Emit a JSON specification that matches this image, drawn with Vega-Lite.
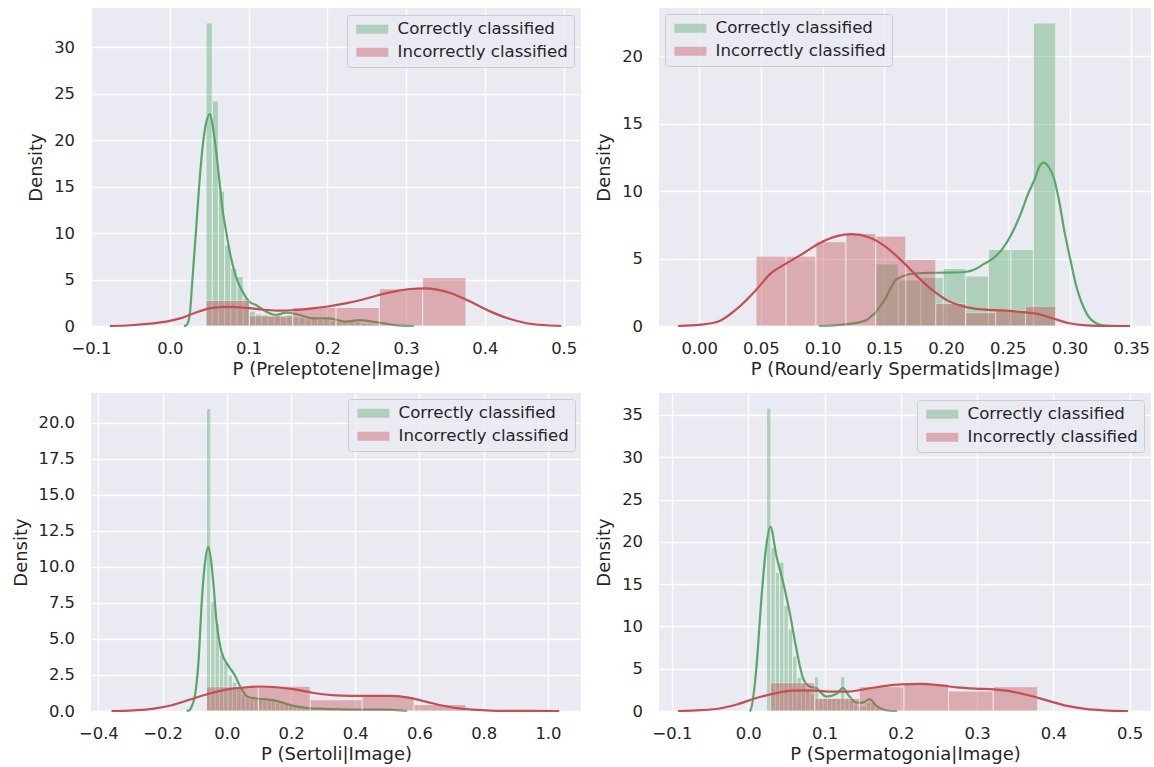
{
"$schema": "https://vega.github.io/schema/vega-lite/v6.json",
"background": "#FFFFFF",
"padding": {"left": 12, "top": 8, "right": 0, "bottom": 0},
"columns": 2,
"spacing": {"row": 14, "column": 14},
"resolve": {"scale": {"color": "independent"}, "legend": {"color": "independent"}},
"config": {
  "font": "DejaVu Sans",
  "view": {"fill": "#EAEAF2", "stroke": null},
  "axis": {"domain": false, "ticks": false, "grid": true, "tickCount": 20, "gridColor": "#FFFFFF", "gridWidth": 1.4, "labelFont": "DejaVu Sans", "labelFontSize": 16.4, "labelColor": "#262626", "labelOverlap": false, "titleFont": "DejaVu Sans", "titleFontSize": 18, "titleFontWeight": "normal", "titleColor": "#262626"},
  "axisX": {"labelPadding": 14, "titlePadding": 4, "labelFlush": false},
  "axisY": {"labelPadding": 16.5, "titlePadding": 8},
  "legend": {"padding": 6, "cornerRadius": 3, "fillColor": "rgba(234,234,242,0.8)", "strokeColor": "#CCCCCC", "strokeWidth": 1, "symbolType": "M-3.2,-0.9H3.2V0.9H-3.2Z", "symbolSize": 100, "symbolOffset": 11, "symbolStrokeWidth": 0, "symbolOpacity": 0.4, "labelOffset": 17, "labelFont": "DejaVu Sans", "labelFontSize": 16.6, "labelColor": "#262626", "labelLimit": 400, "rowPadding": 6}
},
"datasets": {
  "pre_ch": [{"x0":0.046,"x1":0.0539,"d":32.6},{"x0":0.0539,"x1":0.0617,"d":24.2},{"x0":0.0617,"x1":0.0696,"d":14.5},{"x0":0.0696,"x1":0.0774,"d":8.7},{"x0":0.0774,"x1":0.0853,"d":6.2},{"x0":0.0853,"x1":0.0932,"d":5.3},{"x0":0.0932,"x1":0.101,"d":3.0},{"x0":0.101,"x1":0.1089,"d":1.6},{"x0":0.1089,"x1":0.1167,"d":1.3},{"x0":0.1167,"x1":0.1246,"d":1.2},{"x0":0.1246,"x1":0.1325,"d":1.0},{"x0":0.1325,"x1":0.1403,"d":1.1},{"x0":0.1403,"x1":0.1482,"d":1.0},{"x0":0.1482,"x1":0.156,"d":1.2},{"x0":0.156,"x1":0.1639,"d":1.0},{"x0":0.1639,"x1":0.1718,"d":0.9},{"x0":0.1718,"x1":0.1796,"d":0.8},{"x0":0.1796,"x1":0.1875,"d":0.9},{"x0":0.1875,"x1":0.1953,"d":0.7},{"x0":0.1953,"x1":0.2032,"d":0.8},{"x0":0.2032,"x1":0.2111,"d":0.6},{"x0":0.2111,"x1":0.2189,"d":0.5},{"x0":0.2189,"x1":0.2268,"d":0.6},{"x0":0.2268,"x1":0.2346,"d":0.5},{"x0":0.2346,"x1":0.2425,"d":0.5},{"x0":0.2425,"x1":0.2504,"d":0.3},{"x0":0.2504,"x1":0.2582,"d":0.3},{"x0":0.2582,"x1":0.2661,"d":0.2},{"x0":0.2661,"x1":0.2739,"d":0.1},{"x0":0.2739,"x1":0.2818,"d":0.1}],
  "pre_ih": [{"x0":0.046,"x1":0.101,"d":2.75},{"x0":0.101,"x1":0.156,"d":1.1},{"x0":0.156,"x1":0.211,"d":2.0},{"x0":0.211,"x1":0.266,"d":2.0},{"x0":0.266,"x1":0.321,"d":4.0},{"x0":0.321,"x1":0.376,"d":5.2}],
  "pre_ck": [{"x":0.018,"d":0},{"x":0.0207,"d":0.05},{"x":0.025,"d":1.0},{"x":0.029,"d":5.3},{"x":0.0335,"d":10.5},{"x":0.0376,"d":15.4},{"x":0.042,"d":19.5},{"x":0.046,"d":21.8},{"x":0.0511,"d":22.8},{"x":0.0545,"d":21.5},{"x":0.0587,"d":18.9},{"x":0.063,"d":15.6},{"x":0.067,"d":12.5},{"x":0.0715,"d":10.2},{"x":0.0756,"d":8.2},{"x":0.084,"d":5.3},{"x":0.0924,"d":3.7},{"x":0.1009,"d":2.6},{"x":0.1094,"d":2.26},{"x":0.122,"d":1.55},{"x":0.1347,"d":1.18},{"x":0.1474,"d":1.43},{"x":0.16,"d":1.29},{"x":0.17,"d":1.05},{"x":0.181,"d":0.82},{"x":0.202,"d":0.82},{"x":0.223,"d":0.47},{"x":0.24,"d":0.64},{"x":0.257,"d":0.47},{"x":0.272,"d":0.28},{"x":0.286,"d":0.1},{"x":0.3,"d":0.02},{"x":0.31,"d":0}],
  "pre_ik": [{"x":-0.076,"d":0},{"x":-0.05,"d":0.08},{"x":-0.025,"d":0.25},{"x":0,"d":0.55},{"x":0.013,"d":0.82},{"x":0.03,"d":1.35},{"x":0.0545,"d":1.95},{"x":0.075,"d":2.05},{"x":0.097,"d":1.95},{"x":0.12,"d":1.75},{"x":0.139,"d":1.65},{"x":0.16,"d":1.72},{"x":0.181,"d":1.9},{"x":0.2,"d":2.1},{"x":0.223,"d":2.44},{"x":0.245,"d":2.85},{"x":0.2655,"d":3.33},{"x":0.286,"d":3.72},{"x":0.305,"d":3.98},{"x":0.324,"d":4.05},{"x":0.339,"d":3.92},{"x":0.358,"d":3.5},{"x":0.382,"d":2.6},{"x":0.406,"d":1.6},{"x":0.43,"d":0.8},{"x":0.453,"d":0.3},{"x":0.478,"d":0.08},{"x":0.497,"d":0}],
  "round_ch": [{"x0":0.1431,"x1":0.1613,"d":4.6},{"x0":0.1613,"x1":0.1796,"d":3.4},{"x0":0.1796,"x1":0.1978,"d":3.6},{"x0":0.1978,"x1":0.216,"d":4.26},{"x0":0.216,"x1":0.2343,"d":3.7},{"x0":0.2343,"x1":0.2525,"d":5.67},{"x0":0.2525,"x1":0.2707,"d":5.67},{"x0":0.2707,"x1":0.2888,"d":22.45}],
  "round_ih": [{"x0":0.0461,"x1":0.0704,"d":5.17},{"x0":0.0704,"x1":0.0946,"d":5.17},{"x0":0.0946,"x1":0.1189,"d":6.24},{"x0":0.1189,"x1":0.1431,"d":6.86},{"x0":0.1431,"x1":0.1674,"d":6.66},{"x0":0.1674,"x1":0.1917,"d":4.93},{"x0":0.1917,"x1":0.2159,"d":1.66},{"x0":0.2159,"x1":0.2402,"d":0.99},{"x0":0.2402,"x1":0.2644,"d":1.16},{"x0":0.2644,"x1":0.2888,"d":1.46}],
  "round_ck": [{"x":0.097,"d":0},{"x":0.115,"d":0.08},{"x":0.125,"d":0.2},{"x":0.1354,"d":0.42},{"x":0.139,"d":0.7},{"x":0.143,"d":1.0},{"x":0.146,"d":1.4},{"x":0.15,"d":1.9},{"x":0.1545,"d":2.7},{"x":0.1592,"d":3.4},{"x":0.1655,"d":3.7},{"x":0.1711,"d":3.85},{"x":0.185,"d":3.94},{"x":0.2,"d":3.95},{"x":0.215,"d":4.0},{"x":0.2235,"d":4.2},{"x":0.2307,"d":4.6},{"x":0.238,"d":5.0},{"x":0.2455,"d":5.7},{"x":0.253,"d":6.8},{"x":0.2604,"d":8.3},{"x":0.2665,"d":9.8},{"x":0.2723,"d":11.0},{"x":0.2755,"d":11.8},{"x":0.2789,"d":12.1},{"x":0.283,"d":11.8},{"x":0.2872,"d":11.0},{"x":0.2915,"d":9.3},{"x":0.2961,"d":6.9},{"x":0.3005,"d":5.0},{"x":0.3051,"d":3.1},{"x":0.3095,"d":1.8},{"x":0.314,"d":0.9},{"x":0.3229,"d":0.15},{"x":0.33,"d":0.02},{"x":0.345,"d":0}],
  "round_ik": [{"x":-0.017,"d":0},{"x":0.0015,"d":0.1},{"x":0.016,"d":0.35},{"x":0.031,"d":1.3},{"x":0.046,"d":2.65},{"x":0.058,"d":3.9},{"x":0.07,"d":4.6},{"x":0.082,"d":5.25},{"x":0.0967,"d":6.1},{"x":0.1116,"d":6.66},{"x":0.1235,"d":6.8},{"x":0.138,"d":6.56},{"x":0.153,"d":5.74},{"x":0.165,"d":4.75},{"x":0.177,"d":3.64},{"x":0.189,"d":2.65},{"x":0.201,"d":1.9},{"x":0.216,"d":1.41},{"x":0.2307,"d":1.21},{"x":0.2455,"d":1.16},{"x":0.2604,"d":1.04},{"x":0.2753,"d":0.87},{"x":0.2872,"d":0.54},{"x":0.299,"d":0.22},{"x":0.314,"d":0.05},{"x":0.33,"d":0.01},{"x":0.349,"d":0}],
  "sert_ch": [{"x0":-0.0635,"x1":-0.05,"d":21.0},{"x0":-0.05,"x1":-0.0366,"d":7.6},{"x0":-0.0366,"x1":-0.0231,"d":6.1},{"x0":-0.0231,"x1":-0.0096,"d":3.9},{"x0":-0.0096,"x1":0.0039,"d":3.4},{"x0":0.0039,"x1":0.0173,"d":2.5},{"x0":0.0173,"x1":0.0308,"d":2.0},{"x0":0.0308,"x1":0.0443,"d":1.7},{"x0":0.0443,"x1":0.0577,"d":1.15},{"x0":0.0577,"x1":0.0712,"d":0.9},{"x0":0.0712,"x1":0.0847,"d":0.85},{"x0":0.0847,"x1":0.0981,"d":0.8},{"x0":0.0981,"x1":0.1116,"d":0.8},{"x0":0.1116,"x1":0.1251,"d":0.75},{"x0":0.1251,"x1":0.1386,"d":0.75},{"x0":0.1386,"x1":0.152,"d":0.7},{"x0":0.152,"x1":0.1655,"d":0.6},{"x0":0.1655,"x1":0.179,"d":0.5},{"x0":0.179,"x1":0.1924,"d":0.45},{"x0":0.1924,"x1":0.2059,"d":0.4},{"x0":0.2059,"x1":0.2194,"d":0.35},{"x0":0.2194,"x1":0.2328,"d":0.3},{"x0":0.2328,"x1":0.2463,"d":0.3},{"x0":0.2463,"x1":0.2598,"d":0.25},{"x0":0.2598,"x1":0.2733,"d":0.25},{"x0":0.2733,"x1":0.2867,"d":0.2},{"x0":0.2867,"x1":0.3002,"d":0.2},{"x0":0.3002,"x1":0.3137,"d":0.15},{"x0":0.3137,"x1":0.3271,"d":0.15},{"x0":0.3271,"x1":0.3406,"d":0.15},{"x0":0.3406,"x1":0.3541,"d":0.1},{"x0":0.3541,"x1":0.3675,"d":0.1},{"x0":0.3675,"x1":0.381,"d":0.1},{"x0":0.381,"x1":0.3945,"d":0.1},{"x0":0.3945,"x1":0.4079,"d":0.1},{"x0":0.4079,"x1":0.4214,"d":0.1},{"x0":0.4214,"x1":0.4349,"d":0.1},{"x0":0.4349,"x1":0.4484,"d":0.1},{"x0":0.4484,"x1":0.4618,"d":0.1},{"x0":0.4618,"x1":0.4753,"d":0.1},{"x0":0.4753,"x1":0.4888,"d":0.1},{"x0":0.4888,"x1":0.5022,"d":0.05},{"x0":0.5022,"x1":0.5157,"d":0.05},{"x0":0.5157,"x1":0.5292,"d":0.05}],
  "sert_ih": [{"x0":-0.0635,"x1":0.0981,"d":1.68},{"x0":0.0981,"x1":0.2597,"d":1.72},{"x0":0.2597,"x1":0.4213,"d":0.78},{"x0":0.4213,"x1":0.5829,"d":1.0},{"x0":0.5829,"x1":0.7445,"d":0.45}],
  "sert_ck": [{"x":-0.125,"d":0},{"x":-0.117,"d":0.05},{"x":-0.108,"d":0.4},{"x":-0.099,"d":1.1},{"x":-0.088,"d":3.5},{"x":-0.078,"d":7.6},{"x":-0.068,"d":10.3},{"x":-0.0575,"d":11.4},{"x":-0.05,"d":10.6},{"x":-0.042,"d":8.9},{"x":-0.032,"d":6.2},{"x":-0.0164,"d":4.1},{"x":0.004,"d":3.17},{"x":0.025,"d":2.48},{"x":0.045,"d":1.55},{"x":0.066,"d":0.97},{"x":0.097,"d":0.85},{"x":0.148,"d":0.74},{"x":0.2,"d":0.4},{"x":0.252,"d":0.21},{"x":0.305,"d":0.15},{"x":0.352,"d":0.12},{"x":0.41,"d":0.1},{"x":0.468,"d":0.1},{"x":0.515,"d":0.08},{"x":0.538,"d":0.04},{"x":0.561,"d":0}],
  "sert_ik": [{"x":-0.359,"d":0},{"x":-0.289,"d":0.05},{"x":-0.231,"d":0.15},{"x":-0.172,"d":0.4},{"x":-0.114,"d":0.8},{"x":-0.056,"d":1.2},{"x":0.002,"d":1.5},{"x":0.061,"d":1.65},{"x":0.107,"d":1.7},{"x":0.154,"d":1.65},{"x":0.212,"d":1.5},{"x":0.27,"d":1.25},{"x":0.328,"d":1.1},{"x":0.387,"d":1.05},{"x":0.445,"d":1.05},{"x":0.503,"d":1.05},{"x":0.561,"d":0.95},{"x":0.62,"d":0.65},{"x":0.678,"d":0.35},{"x":0.736,"d":0.15},{"x":0.806,"d":0.05},{"x":0.876,"d":0.01},{"x":1.035,"d":0}],
  "spg_ch": [{"x0":0.024,"x1":0.0297,"d":35.8},{"x0":0.0297,"x1":0.0354,"d":19.3},{"x0":0.0354,"x1":0.0411,"d":16.4},{"x0":0.0411,"x1":0.0468,"d":17.6},{"x0":0.0468,"x1":0.0525,"d":12.5},{"x0":0.0525,"x1":0.0582,"d":9.7},{"x0":0.0582,"x1":0.0639,"d":6.5},{"x0":0.0639,"x1":0.0696,"d":4.0},{"x0":0.0696,"x1":0.0753,"d":3.3},{"x0":0.0753,"x1":0.081,"d":2.6},{"x0":0.081,"x1":0.0867,"d":2.0},{"x0":0.0867,"x1":0.0924,"d":4.05},{"x0":0.0924,"x1":0.0981,"d":1.5},{"x0":0.0981,"x1":0.1038,"d":1.5},{"x0":0.1038,"x1":0.1095,"d":1.5},{"x0":0.1095,"x1":0.1152,"d":1.5},{"x0":0.1152,"x1":0.1209,"d":1.5},{"x0":0.1209,"x1":0.1266,"d":4.05},{"x0":0.1266,"x1":0.1323,"d":1.5},{"x0":0.1323,"x1":0.138,"d":1.2},{"x0":0.138,"x1":0.1437,"d":0.8},{"x0":0.1437,"x1":0.1494,"d":0.6},{"x0":0.1494,"x1":0.1551,"d":0.6},{"x0":0.1551,"x1":0.1608,"d":1.0},{"x0":0.1608,"x1":0.1665,"d":1.0},{"x0":0.1665,"x1":0.1722,"d":0.4}],
  "spg_ih": [{"x0":0.0288,"x1":0.0873,"d":3.35},{"x0":0.0873,"x1":0.1457,"d":1.5},{"x0":0.1457,"x1":0.2042,"d":2.87},{"x0":0.2042,"x1":0.2626,"d":3.19},{"x0":0.2626,"x1":0.3211,"d":2.36},{"x0":0.3211,"x1":0.3795,"d":2.87}],
  "spg_ck": [{"x":0.0015,"d":0},{"x":0.0027,"d":0.05},{"x":0.0106,"d":5.0},{"x":0.017,"d":13.0},{"x":0.0237,"d":19.6},{"x":0.029,"d":21.8},{"x":0.0368,"d":18.4},{"x":0.0455,"d":15.3},{"x":0.0542,"d":11.7},{"x":0.063,"d":7.4},{"x":0.0717,"d":3.9},{"x":0.0804,"d":2.9},{"x":0.0892,"d":2.7},{"x":0.096,"d":2.1},{"x":0.1023,"d":1.7},{"x":0.1154,"d":2.0},{"x":0.124,"d":2.7},{"x":0.1328,"d":1.7},{"x":0.1416,"d":1.0},{"x":0.15,"d":1.0},{"x":0.159,"d":1.4},{"x":0.168,"d":0.6},{"x":0.176,"d":0.2},{"x":0.185,"d":0.03},{"x":0.195,"d":0}],
  "spg_ik": [{"x":-0.092,"d":0},{"x":-0.062,"d":0.1},{"x":-0.038,"d":0.3},{"x":-0.014,"d":0.8},{"x":0.0096,"d":1.5},{"x":0.0336,"d":2.05},{"x":0.0576,"d":2.4},{"x":0.0816,"d":2.45},{"x":0.1056,"d":2.3},{"x":0.1296,"d":2.3},{"x":0.1536,"d":2.6},{"x":0.1776,"d":2.95},{"x":0.2016,"d":3.15},{"x":0.2256,"d":3.2},{"x":0.2496,"d":3.05},{"x":0.2737,"d":2.8},{"x":0.2977,"d":2.65},{"x":0.3217,"d":2.55},{"x":0.3457,"d":2.3},{"x":0.3697,"d":1.8},{"x":0.3937,"d":1.2},{"x":0.4177,"d":0.6},{"x":0.4417,"d":0.25},{"x":0.4657,"d":0.08},{"x":0.4978,"d":0}]
},
"concat": [
  {
    "width": 490, "height": 318,
    "layer": [
      {"data": {"name": "pre_ch"}, "mark": {"type": "rect", "opacity": 0.4, "stroke": "#FFFFFF", "strokeWidth": 0.8},
       "encoding": {
         "x": {"field": "x0", "type": "quantitative", "title": "P (Preleptotene|Image)", "scale": {"domain": [-0.1, 0.522], "nice": false, "zero": false}, "axis": {"values": [-0.1, 0, 0.1, 0.2, 0.3, 0.4, 0.5], "format": ".1f"}},
         "x2": {"field": "x1"},
         "y": {"field": "d", "type": "quantitative", "title": "Density", "scale": {"domain": [0, 34.2], "nice": false, "zero": true}, "axis": {"values": [0, 5, 10, 15, 20, 25, 30], "format": "d"}},
         "y2": {"datum": 0},
         "color": {"datum": "Correctly classified", "type": "nominal", "scale": {"domain": ["Correctly classified", "Incorrectly classified"], "range": ["#55A868", "#C44E52"]}, "legend": {"title": null, "orient": "top-right", "offset": 7}}
       }},
      {"data": {"name": "pre_ck"}, "mark": {"type": "line", "color": "#55A868", "strokeWidth": 2.2, "interpolate": "monotone"},
       "encoding": {"x": {"field": "x", "type": "quantitative", "title": "P (Preleptotene|Image)"}, "y": {"field": "d", "type": "quantitative", "title": "Density"}}},
      {"data": {"name": "pre_ih"}, "mark": {"type": "rect", "opacity": 0.4, "stroke": "#FFFFFF", "strokeWidth": 0.8},
       "encoding": {
         "x": {"field": "x0", "type": "quantitative", "title": "P (Preleptotene|Image)"},
         "x2": {"field": "x1"},
         "y": {"field": "d", "type": "quantitative", "title": "Density"},
         "y2": {"datum": 0},
         "color": {"datum": "Incorrectly classified", "type": "nominal"}
       }},
      {"data": {"name": "pre_ik"}, "mark": {"type": "line", "color": "#C44E52", "strokeWidth": 2.2, "interpolate": "monotone"},
       "encoding": {"x": {"field": "x", "type": "quantitative", "title": "P (Preleptotene|Image)"}, "y": {"field": "d", "type": "quantitative", "title": "Density"}}}
    ]
  },
  {
    "width": 492, "height": 318,
    "layer": [
      {"data": {"name": "round_ch"}, "mark": {"type": "rect", "opacity": 0.4, "stroke": "#FFFFFF", "strokeWidth": 0.8},
       "encoding": {
         "x": {"field": "x0", "type": "quantitative", "title": "P (Round/early Spermatids|Image)", "scale": {"domain": [-0.0325, 0.366], "nice": false, "zero": false}, "axis": {"values": [0, 0.05, 0.1, 0.15, 0.2, 0.25, 0.3, 0.35], "format": ".2f"}},
         "x2": {"field": "x1"},
         "y": {"field": "d", "type": "quantitative", "title": "Density", "scale": {"domain": [0, 23.56], "nice": false, "zero": true}, "axis": {"values": [0, 5, 10, 15, 20], "format": "d"}},
         "y2": {"datum": 0},
         "color": {"datum": "Correctly classified", "type": "nominal", "scale": {"domain": ["Correctly classified", "Incorrectly classified"], "range": ["#55A868", "#C44E52"]}, "legend": {"title": null, "orient": "top-left", "offset": 6}}
       }},
      {"data": {"name": "round_ck"}, "mark": {"type": "line", "color": "#55A868", "strokeWidth": 2.2, "interpolate": "monotone"},
       "encoding": {"x": {"field": "x", "type": "quantitative", "title": "P (Round/early Spermatids|Image)"}, "y": {"field": "d", "type": "quantitative", "title": "Density"}}},
      {"data": {"name": "round_ih"}, "mark": {"type": "rect", "opacity": 0.4, "stroke": "#FFFFFF", "strokeWidth": 0.8},
       "encoding": {
         "x": {"field": "x0", "type": "quantitative", "title": "P (Round/early Spermatids|Image)"},
         "x2": {"field": "x1"},
         "y": {"field": "d", "type": "quantitative", "title": "Density"},
         "y2": {"datum": 0},
         "color": {"datum": "Incorrectly classified", "type": "nominal"}
       }},
      {"data": {"name": "round_ik"}, "mark": {"type": "line", "color": "#C44E52", "strokeWidth": 2.2, "interpolate": "monotone"},
       "encoding": {"x": {"field": "x", "type": "quantitative", "title": "P (Round/early Spermatids|Image)"}, "y": {"field": "d", "type": "quantitative", "title": "Density"}}}
    ]
  },
  {
    "width": 490, "height": 318,
    "layer": [
      {"data": {"name": "sert_ch"}, "mark": {"type": "rect", "opacity": 0.4, "stroke": "#FFFFFF", "strokeWidth": 0.8},
       "encoding": {
         "x": {"field": "x0", "type": "quantitative", "title": "P (Sertoli|Image)", "scale": {"domain": [-0.423, 1.103], "nice": false, "zero": false}, "axis": {"values": [-0.4, -0.2, 0, 0.2, 0.4, 0.6, 0.8, 1.0], "format": ".1f"}},
         "x2": {"field": "x1"},
         "y": {"field": "d", "type": "quantitative", "title": "Density", "scale": {"domain": [0, 22.08], "nice": false, "zero": true}, "axis": {"values": [0, 2.5, 5, 7.5, 10, 12.5, 15, 17.5, 20], "format": ".1f"}},
         "y2": {"datum": 0},
         "color": {"datum": "Correctly classified", "type": "nominal", "scale": {"domain": ["Correctly classified", "Incorrectly classified"], "range": ["#55A868", "#C44E52"]}, "legend": {"title": null, "orient": "top-right", "offset": 6}}
       }},
      {"data": {"name": "sert_ck"}, "mark": {"type": "line", "color": "#55A868", "strokeWidth": 2.2, "interpolate": "monotone"},
       "encoding": {"x": {"field": "x", "type": "quantitative", "title": "P (Sertoli|Image)"}, "y": {"field": "d", "type": "quantitative", "title": "Density"}}},
      {"data": {"name": "sert_ih"}, "mark": {"type": "rect", "opacity": 0.4, "stroke": "#FFFFFF", "strokeWidth": 0.8},
       "encoding": {
         "x": {"field": "x0", "type": "quantitative", "title": "P (Sertoli|Image)"},
         "x2": {"field": "x1"},
         "y": {"field": "d", "type": "quantitative", "title": "Density"},
         "y2": {"datum": 0},
         "color": {"datum": "Incorrectly classified", "type": "nominal"}
       }},
      {"data": {"name": "sert_ik"}, "mark": {"type": "line", "color": "#C44E52", "strokeWidth": 2.2, "interpolate": "monotone"},
       "encoding": {"x": {"field": "x", "type": "quantitative", "title": "P (Sertoli|Image)"}, "y": {"field": "d", "type": "quantitative", "title": "Density"}}}
    ]
  },
  {
    "width": 492, "height": 318,
    "layer": [
      {"data": {"name": "spg_ch"}, "mark": {"type": "rect", "opacity": 0.4, "stroke": "#FFFFFF", "strokeWidth": 0.8},
       "encoding": {
         "x": {"field": "x0", "type": "quantitative", "title": "P (Spermatogonia|Image)", "scale": {"domain": [-0.117, 0.528], "nice": false, "zero": false}, "axis": {"values": [-0.1, 0, 0.1, 0.2, 0.3, 0.4, 0.5], "format": ".1f"}},
         "x2": {"field": "x1"},
         "y": {"field": "d", "type": "quantitative", "title": "Density", "scale": {"domain": [0, 37.6], "nice": false, "zero": true}, "axis": {"values": [0, 5, 10, 15, 20, 25, 30, 35], "format": "d"}},
         "y2": {"datum": 0},
         "color": {"datum": "Correctly classified", "type": "nominal", "scale": {"domain": ["Correctly classified", "Incorrectly classified"], "range": ["#55A868", "#C44E52"]}, "legend": {"title": null, "orient": "top-right", "offset": 7}}
       }},
      {"data": {"name": "spg_ck"}, "mark": {"type": "line", "color": "#55A868", "strokeWidth": 2.2, "interpolate": "monotone"},
       "encoding": {"x": {"field": "x", "type": "quantitative", "title": "P (Spermatogonia|Image)"}, "y": {"field": "d", "type": "quantitative", "title": "Density"}}},
      {"data": {"name": "spg_ih"}, "mark": {"type": "rect", "opacity": 0.4, "stroke": "#FFFFFF", "strokeWidth": 0.8},
       "encoding": {
         "x": {"field": "x0", "type": "quantitative", "title": "P (Spermatogonia|Image)"},
         "x2": {"field": "x1"},
         "y": {"field": "d", "type": "quantitative", "title": "Density"},
         "y2": {"datum": 0},
         "color": {"datum": "Incorrectly classified", "type": "nominal"}
       }},
      {"data": {"name": "spg_ik"}, "mark": {"type": "line", "color": "#C44E52", "strokeWidth": 2.2, "interpolate": "monotone"},
       "encoding": {"x": {"field": "x", "type": "quantitative", "title": "P (Spermatogonia|Image)"}, "y": {"field": "d", "type": "quantitative", "title": "Density"}}}
    ]
  }
]
}
